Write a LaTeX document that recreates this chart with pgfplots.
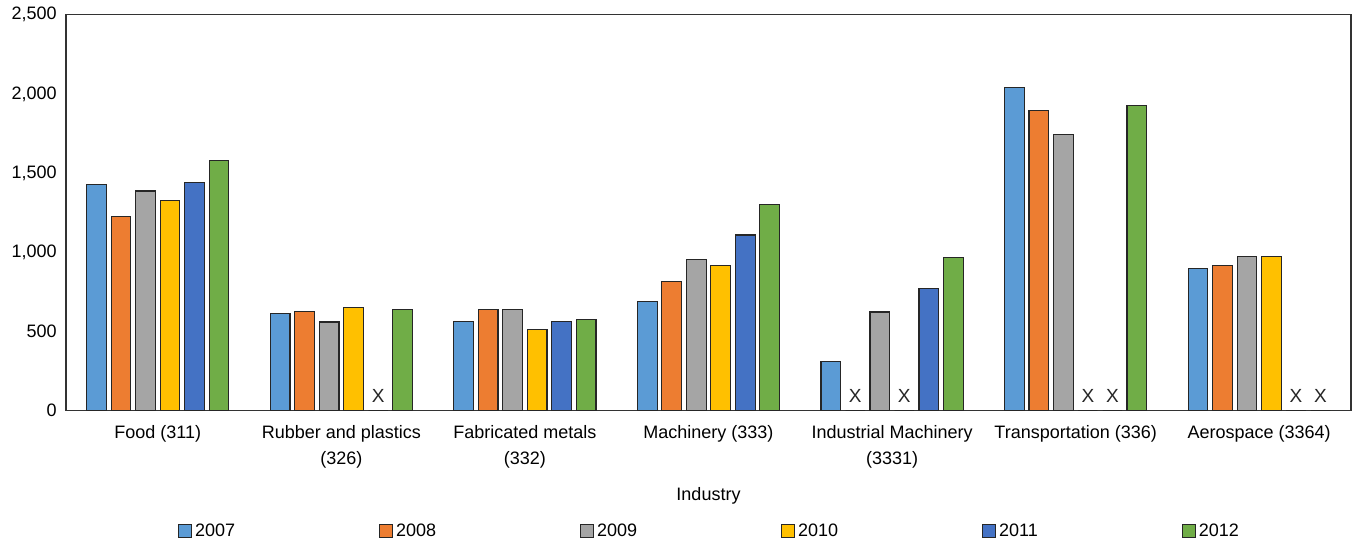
\documentclass[border=0pt]{standalone}
\usepackage{fontspec}
\setmainfont{Liberation Sans}
\usepackage{pgfplots}
\usepackage{pgfplotstable}
\pgfplotsset{compat=1.18}
\definecolor{c07}{HTML}{5B9BD5}
\definecolor{c08}{HTML}{ED7D31}
\definecolor{c09}{HTML}{A5A5A5}
\definecolor{c10}{HTML}{FFC000}
\definecolor{c11}{HTML}{4472C4}
\definecolor{c12}{HTML}{70AD47}
\pgfplotstableread{
x y07 m07 y08 m08 y09 m09 y10 m10 y11 m11 y12 m12
0 1430 {} 1227 {} 1387 {} 1326 {} 1442 {} 1580 {}
1 615 {} 627 {} 560 {} 653 {} 0 X 640 {}
2 562 {} 640 {} 638 {} 511 {} 562 {} 575 {}
3 688 {} 813 {} 953 {} 918 {} 1109 {} 1299 {}
4 312 {} 0 X 623 {} 0 X 770 {} 966 {}
5 2039 {} 1896 {} 1745 {} 0 X 0 X 1928 {}
6 896 {} 918 {} 972 {} 975 {} 0 X 0 X
}\data
\begin{document}
\fontsize{9}{12.5}\selectfont
\begin{tikzpicture}
\path (-33pt,-66.65pt) rectangle (644pt,205.35pt);
\begin{axis}[
  at={(0,0)}, anchor=south west,
  scale only axis, width=642.5pt, height=198pt,
  xmin=-0.5, xmax=6.5, ymin=0, ymax=2500,
  ybar=2.4pt, bar width=9.85pt,
  xtick={0,...,6},
  xticklabels={Food (311), {Rubber and plastics\\(326)}, {Fabricated metals\\(332)}, Machinery (333), {Industrial Machinery\\(3331)}, Transportation (336), Aerospace (3364)},
  xticklabel style={align=center, font=\fontsize{9}{13.3}\selectfont, yshift=-4pt},
  ytick={0,500,...,2500},
  /pgf/number format/1000 sep={,},
  /pgf/number format/assume math mode=true,
  yticklabel style={font=\fontsize{9}{11}\selectfont, xshift=-1.5pt},
  major tick length=0pt,
  axis line style={black!80, line width=0.7pt},
  xlabel={Industry},
  xlabel style={at={(axis description cs:0.5,-0.215)}, anchor=center, font=\fontsize{9}{11}\selectfont},
  legend columns=6,
  legend style={at={(0.5,-0.304)}, anchor=center, draw=none, font=\fontsize{9}{11}\selectfont,
    nodes={inner sep=0pt},
    /tikz/every odd column/.append style={column sep=1.5pt},
    /tikz/every even column/.append style={column sep=72pt}},
  legend image code/.code={\draw[#1,draw=black!85,line width=0.5pt] (0pt,-3.25pt) rectangle (6.5pt,3.25pt);},
  every axis plot/.append style={draw=black!85, line width=0.55pt},
  point meta=explicit symbolic,
  nodes near coords,
  nodes near coords style={font=\fontsize{9.5}{11}\selectfont, text=black!85, yshift=1pt},
]
\addplot[fill=c07] table[x=x,y=y07,meta=m07]{\data};
\addplot[fill=c08] table[x=x,y=y08,meta=m08]{\data};
\addplot[fill=c09] table[x=x,y=y09,meta=m09]{\data};
\addplot[fill=c10] table[x=x,y=y10,meta=m10]{\data};
\addplot[fill=c11] table[x=x,y=y11,meta=m11]{\data};
\addplot[fill=c12] table[x=x,y=y12,meta=m12]{\data};
\legend{2007,2008,2009,2010,2011,2012}
\end{axis}
\end{tikzpicture}
\end{document}
